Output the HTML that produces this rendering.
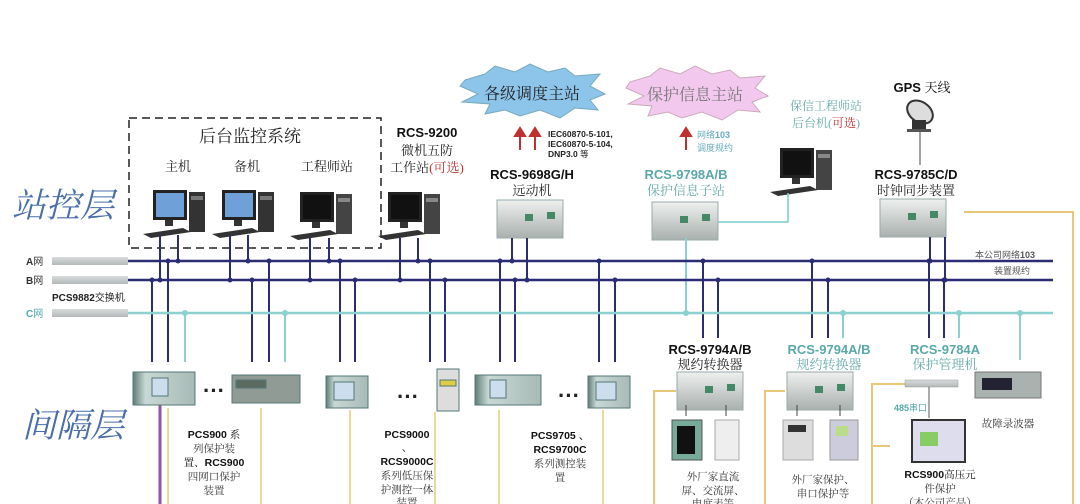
<!DOCTYPE html>
<html><head><meta charset="utf-8"><style>
body{margin:0;background:#fff;}
svg{display:block;font-family:"Liberation Sans","Noto Sans CJK SC",sans-serif;}
.s{font-family:"Liberation Serif","Noto Serif CJK SC",serif;}
</style></head><body>
<svg width="1080" height="504" viewBox="0 0 1080 504" xmlns="http://www.w3.org/2000/svg">
<defs>
<linearGradient id="dev" x1="0" y1="0" x2="0" y2="1"><stop offset="0" stop-color="#eef0ee"/><stop offset="1" stop-color="#a9b0ae"/></linearGradient>
<linearGradient id="bay" x1="0" y1="0" x2="1" y2="0"><stop offset="0" stop-color="#5f7d78"/><stop offset="0.2" stop-color="#c8d8d4"/><stop offset="1" stop-color="#a8bab6"/></linearGradient>
<linearGradient id="bar" x1="0" y1="0" x2="0" y2="1"><stop offset="0" stop-color="#d8dcdc"/><stop offset="1" stop-color="#b3b8b8"/></linearGradient>
<g id="pc"><rect x="10" y="0" width="34" height="30" fill="#222"/><rect x="13" y="3" width="28" height="24" fill="#6fa0d8"/><rect x="46" y="2" width="16" height="40" fill="#333"/><rect x="48" y="6" width="12" height="4" fill="#777"/><polygon points="0,44 40,38 48,42 8,48" fill="#333"/><rect x="22" y="30" width="8" height="6" fill="#333"/></g>
<g id="pc2"><rect x="10" y="0" width="34" height="30" fill="#222"/><rect x="13" y="3" width="28" height="24" fill="#111"/><rect x="46" y="2" width="16" height="40" fill="#444"/><rect x="48" y="6" width="12" height="4" fill="#888"/><polygon points="0,44 40,38 48,42 8,48" fill="#333"/><rect x="22" y="30" width="8" height="6" fill="#333"/></g>
<g id="rack"><rect x="0" y="0" width="66" height="38" fill="url(#dev)" stroke="#9aa" stroke-width="1"/><rect x="28" y="14" width="8" height="7" fill="#486"/><rect x="50" y="12" width="8" height="7" fill="#486"/></g>
</defs>

<text x="12" y="217" class="s" font-size="34" font-style="italic" fill="#4a6fa8">站控层</text>
<text x="22" y="437" class="s" font-size="34" font-style="italic" fill="#4a6fa8">间隔层</text>

<rect x="129" y="118" width="252" height="130" fill="none" stroke="#222" stroke-width="1.5" stroke-dasharray="8,5"/>
<text x="250" y="142" class="s" font-size="17" text-anchor="middle" fill="#222">后台监控系统</text>
<text x="178" y="171" class="s" font-size="13" text-anchor="middle" fill="#222">主机</text>
<text x="247" y="171" class="s" font-size="13" text-anchor="middle" fill="#222">备机</text>
<text x="327" y="171" class="s" font-size="13" text-anchor="middle" fill="#222">工程师站</text>
<use href="#pc" x="143" y="190"/>
<use href="#pc" x="212" y="190"/>
<use href="#pc2" x="290" y="192"/>
<use href="#pc2" x="378" y="192"/>

<text x="427" y="137" font-size="13" font-weight="bold" text-anchor="middle" fill="#111">RCS-9200</text>
<text x="427" y="155" class="s" font-size="13" text-anchor="middle" fill="#222">微机五防</text>
<text x="427" y="172" class="s" font-size="13" text-anchor="middle" fill="#222">工作站<tspan fill="#c03030">(可选)</tspan></text>

<polygon points="465,80 485,74 495,66 515,72 530,64 548,72 565,68 575,76 600,74 590,86 605,94 590,100 598,110 575,108 560,118 540,110 520,116 505,110 485,114 490,104 462,102 478,94 460,86" fill="#8cc4ea" stroke="#7ab" stroke-width="1"/>
<text x="532" y="99" class="s" font-size="16" text-anchor="middle" fill="#222">各级调度主站</text>
<polygon points="630,82 650,76 660,68 680,74 695,66 712,74 730,70 740,78 765,76 755,88 768,96 752,102 760,112 738,110 722,120 702,112 682,118 668,112 648,116 652,106 628,104 644,96 626,88" fill="#f3c8ee" stroke="#cab" stroke-width="1"/>
<text x="695" y="100" class="s" font-size="16" text-anchor="middle" fill="#777">保护信息主站</text>

<g stroke="#c03030" stroke-width="2" fill="#c03030">
<line x1="520" y1="150" x2="520" y2="134"/><polygon points="515,136 525,136 520,128"/>
<line x1="535" y1="150" x2="535" y2="134"/><polygon points="530,136 540,136 535,128"/>
<line x1="686" y1="150" x2="686" y2="134"/><polygon points="681,136 691,136 686,128"/>
</g>
<text x="548" y="137" font-size="8.5" font-weight="bold" fill="#222">IEC60870-5-101,</text>
<text x="548" y="147" font-size="8.5" font-weight="bold" fill="#222">IEC60870-5-104,</text>
<text x="548" y="157" font-size="8.5" font-weight="bold" fill="#222">DNP3.0 <tspan font-weight="normal">等</tspan></text>
<text x="697" y="138" font-size="9" fill="#6ab"><tspan>网络</tspan><tspan font-weight="bold">103</tspan></text>
<text x="697" y="151" font-size="9" fill="#6ab">调度规约</text>

<text x="532" y="179" font-size="13" font-weight="bold" text-anchor="middle" fill="#111">RCS-9698G/H</text>
<text x="532" y="195" class="s" font-size="13" text-anchor="middle" fill="#222">远动机</text>
<use href="#rack" x="497" y="200"/>

<text x="686" y="179" font-size="13" font-weight="bold" text-anchor="middle" fill="#5aa8a8">RCS-9798A/B</text>
<text x="686" y="195" class="s" font-size="13" text-anchor="middle" fill="#6aa">保护信息子站</text>
<use href="#rack" x="652" y="202"/>

<text x="826" y="110" class="s" font-size="12" text-anchor="middle" fill="#6aa">保信工程师站</text>
<text x="826" y="127" class="s" font-size="12" text-anchor="middle" fill="#6aa">后台机(<tspan fill="#c03030">可选</tspan>)</text>
<use href="#pc2" x="770" y="148"/>
<polyline points="718,222 788,222 788,193" fill="none" stroke="#7cc" stroke-width="1.5"/>

<text x="922" y="92" font-size="13" font-weight="bold" text-anchor="middle" fill="#111">GPS <tspan font-weight="normal" class="s">天线</tspan></text>
<g><ellipse cx="920" cy="112" rx="14" ry="10" fill="#ddd" stroke="#333" stroke-width="2" transform="rotate(35 920 112)"/><rect x="912" y="120" width="14" height="10" fill="#333"/><rect x="907" y="129" width="24" height="3" fill="#555"/></g>
<line x1="920" y1="132" x2="920" y2="165" stroke="#444" stroke-width="1"/>
<text x="916" y="179" font-size="13" font-weight="bold" text-anchor="middle" fill="#111">RCS-9785C/D</text>
<text x="916" y="195" class="s" font-size="13" text-anchor="middle" fill="#222">时钟同步装置</text>
<use href="#rack" x="880" y="199"/>
<polyline points="964,212 1073,212 1073,504" fill="none" stroke="#e8c878" stroke-width="2"/>

<text x="26" y="265" font-size="10" font-weight="bold" fill="#333">A<tspan font-weight="normal">网</tspan></text>
<text x="26" y="284" font-size="10" font-weight="bold" fill="#333">B<tspan font-weight="normal">网</tspan></text>
<text x="26" y="317" font-size="10" font-weight="bold" fill="#5aa">C<tspan font-weight="normal">网</tspan></text>
<text x="52" y="301" font-size="10" font-weight="bold" fill="#222">PCS9882<tspan font-weight="normal">交换机</tspan></text>
<rect x="52" y="257" width="76" height="8" fill="url(#bar)"/>
<rect x="52" y="276" width="76" height="8" fill="url(#bar)"/>
<rect x="52" y="309" width="76" height="8" fill="url(#bar)"/>
<text x="1035" y="258" font-size="9" text-anchor="end" fill="#555">本公司网络<tspan font-weight="bold">103</tspan></text>
<text x="1030" y="274" font-size="9" text-anchor="end" fill="#555">装置规约</text>

<g stroke="#2b2d72" stroke-width="2">
<line x1="160" y1="235" x2="160" y2="280"/><line x1="178" y1="235" x2="178" y2="261"/>
<line x1="230" y1="235" x2="230" y2="280"/><line x1="248" y1="235" x2="248" y2="261"/>
<line x1="310" y1="238" x2="310" y2="280"/><line x1="329" y1="238" x2="329" y2="261"/>
<line x1="400" y1="238" x2="400" y2="280"/><line x1="418" y1="238" x2="418" y2="261"/>
<line x1="512" y1="238" x2="512" y2="261"/><line x1="527" y1="238" x2="527" y2="280"/>
<line x1="930" y1="237" x2="930" y2="261"/><line x1="945" y1="237" x2="945" y2="280"/>
<line x1="152" y1="280" x2="152" y2="362"/><line x1="168" y1="261" x2="168" y2="362"/>
<line x1="252" y1="280" x2="252" y2="362"/><line x1="269" y1="261" x2="269" y2="362"/>
<line x1="340" y1="261" x2="340" y2="362"/><line x1="355" y1="280" x2="355" y2="362"/>
<line x1="430" y1="261" x2="430" y2="362"/><line x1="445" y1="280" x2="445" y2="362"/>
<line x1="500" y1="261" x2="500" y2="362"/><line x1="515" y1="280" x2="515" y2="362"/>
<line x1="599" y1="261" x2="599" y2="362"/><line x1="615" y1="280" x2="615" y2="362"/>
<line x1="703" y1="261" x2="703" y2="338"/><line x1="718" y1="280" x2="718" y2="338"/>
<line x1="812" y1="261" x2="812" y2="338"/><line x1="828" y1="280" x2="828" y2="338"/>
<line x1="929" y1="261" x2="929" y2="338"/><line x1="944" y1="280" x2="944" y2="338"/>
</g>
<g stroke="#8cd0d0" stroke-width="2">
<line x1="185" y1="313" x2="185" y2="362"/><line x1="285" y1="313" x2="285" y2="362"/>
<line x1="686" y1="238" x2="686" y2="313"/>
<line x1="843" y1="313" x2="843" y2="338"/><line x1="959" y1="313" x2="959" y2="338"/><line x1="1020" y1="313" x2="1020" y2="360"/>
</g>
<line x1="128" y1="261" x2="1053" y2="261" stroke="#2b2d72" stroke-width="2.5"/>
<line x1="128" y1="280" x2="1053" y2="280" stroke="#2b2d72" stroke-width="2.5"/>
<line x1="128" y1="313" x2="1053" y2="313" stroke="#8cd0d0" stroke-width="2.5"/>
<g fill="#2b2d72">
<circle cx="160" cy="280" r="2.5"/><circle cx="178" cy="261" r="2.5"/><circle cx="152" cy="280" r="2.5"/><circle cx="168" cy="261" r="2.5"/>
<circle cx="230" cy="280" r="2.5"/><circle cx="248" cy="261" r="2.5"/><circle cx="252" cy="280" r="2.5"/><circle cx="269" cy="261" r="2.5"/>
<circle cx="310" cy="280" r="2.5"/><circle cx="329" cy="261" r="2.5"/><circle cx="340" cy="261" r="2.5"/><circle cx="355" cy="280" r="2.5"/>
<circle cx="400" cy="280" r="2.5"/><circle cx="418" cy="261" r="2.5"/><circle cx="430" cy="261" r="2.5"/><circle cx="445" cy="280" r="2.5"/>
<circle cx="500" cy="261" r="2.5"/><circle cx="512" cy="261" r="2.5"/><circle cx="515" cy="280" r="2.5"/><circle cx="527" cy="280" r="2.5"/>
<circle cx="599" cy="261" r="2.5"/><circle cx="615" cy="280" r="2.5"/><circle cx="703" cy="261" r="2.5"/><circle cx="718" cy="280" r="2.5"/>
<circle cx="812" cy="261" r="2.5"/><circle cx="828" cy="280" r="2.5"/><circle cx="929" cy="261" r="2.5"/><circle cx="944" cy="280" r="2.5"/><circle cx="930" cy="261" r="2.5"/><circle cx="945" cy="280" r="2.5"/>
</g>
<g fill="#8cd0d0"><circle cx="185" cy="313" r="3"/><circle cx="285" cy="313" r="3"/><circle cx="686" cy="313" r="3"/><circle cx="843" cy="313" r="3"/><circle cx="959" cy="313" r="3"/><circle cx="1020" cy="313" r="3"/></g>

<line x1="160" y1="405" x2="160" y2="504" stroke="#8a5aa8" stroke-width="3"/>
<g stroke="#eadc98" stroke-width="2" fill="none">
<line x1="168" y1="408" x2="168" y2="504"/><line x1="261" y1="408" x2="261" y2="504"/>
<line x1="350" y1="410" x2="350" y2="504"/><line x1="435" y1="412" x2="435" y2="504"/>
<line x1="499" y1="410" x2="499" y2="504"/><line x1="603" y1="410" x2="603" y2="504"/>
</g>
<g stroke="#e8c878" stroke-width="2" fill="none">
<polyline points="676,391 654,391 654,504"/><polyline points="785,391 765,391 765,504"/>
<polyline points="905,384 872,384 872,504"/><line x1="872" y1="446" x2="890" y2="446"/>
</g>

<g stroke="#577" stroke-width="1">
<rect x="133" y="372" width="62" height="33" fill="url(#bay)"/><rect x="152" y="378" width="16" height="18" fill="#cde" />
<rect x="232" y="375" width="68" height="28" fill="#8f9b94"/><rect x="236" y="380" width="30" height="8" fill="#5b6b60"/>
<rect x="326" y="376" width="42" height="32" fill="url(#bay)"/><rect x="334" y="382" width="20" height="18" fill="#cde"/>
<rect x="437" y="369" width="22" height="42" fill="#ddd"/><rect x="440" y="380" width="16" height="6" fill="#dc4"/>
<rect x="475" y="375" width="66" height="30" fill="url(#bay)"/><rect x="490" y="380" width="16" height="18" fill="#cde"/>
<rect x="588" y="376" width="42" height="32" fill="url(#bay)"/><rect x="596" y="382" width="20" height="18" fill="#cde"/>
</g>
<g font-size="22" font-weight="bold" fill="#222"><text x="203" y="398">···</text><text x="397" y="404">···</text><text x="558" y="403">···</text></g>

<text x="214" y="438" font-size="10.5" font-weight="bold" text-anchor="middle" fill="#111">PCS900 <tspan class="s" font-weight="normal">系</tspan></text>
<text x="214" y="452" class="s" font-size="10.5" text-anchor="middle" fill="#333">列保护装</text>
<text x="214" y="466" font-size="10.5" text-anchor="middle" fill="#111"><tspan class="s">置、</tspan><tspan font-weight="bold">RCS900</tspan></text>
<text x="214" y="480" class="s" font-size="10.5" text-anchor="middle" fill="#333">四网口保护</text>
<text x="214" y="494" class="s" font-size="10.5" text-anchor="middle" fill="#333">装置</text>

<text x="407" y="438" font-size="10.5" font-weight="bold" text-anchor="middle" fill="#111">PCS9000</text>
<text x="407" y="451" font-size="10.5" text-anchor="middle" fill="#333">、</text>
<text x="407" y="465" font-size="10.5" font-weight="bold" text-anchor="middle" fill="#111">RCS9000C</text>
<text x="407" y="479" class="s" font-size="10.5" text-anchor="middle" fill="#333">系列低压保</text>
<text x="407" y="493" class="s" font-size="10.5" text-anchor="middle" fill="#333">护测控一体</text>
<text x="407" y="506" class="s" font-size="10.5" text-anchor="middle" fill="#333">装置</text>

<text x="560" y="439" font-size="10.5" font-weight="bold" text-anchor="middle" fill="#111">PCS9705 <tspan font-weight="normal">、</tspan></text>
<text x="560" y="453" font-size="10.5" font-weight="bold" text-anchor="middle" fill="#111">RCS9700C</text>
<text x="560" y="467" class="s" font-size="10.5" text-anchor="middle" fill="#333">系列测控装</text>
<text x="560" y="481" class="s" font-size="10.5" text-anchor="middle" fill="#333">置</text>

<text x="710" y="354" font-size="13" font-weight="bold" text-anchor="middle" fill="#111">RCS-9794A/B</text>
<text x="710" y="369" class="s" font-size="13" text-anchor="middle" fill="#222">规约转换器</text>
<use href="#rack" x="677" y="372"/>
<text x="829" y="354" font-size="13" font-weight="bold" text-anchor="middle" fill="#5aa8a8">RCS-9794A/B</text>
<text x="829" y="369" class="s" font-size="13" text-anchor="middle" fill="#6aa">规约转换器</text>
<use href="#rack" x="787" y="372"/>
<text x="945" y="354" font-size="13" font-weight="bold" text-anchor="middle" fill="#5aa8a8">RCS-9784A</text>
<text x="945" y="369" class="s" font-size="13" text-anchor="middle" fill="#6aa">保护管理机</text>
<rect x="905" y="380" width="53" height="7" fill="url(#bar)" stroke="#999" stroke-width="0.5"/>
<line x1="929" y1="387" x2="929" y2="418" stroke="#555"/>
<text x="894" y="411" font-size="9" font-weight="bold" fill="#5aa">485<tspan font-weight="normal">串口</tspan></text>
<rect x="975" y="372" width="66" height="26" fill="#aab2b0" stroke="#777"/><rect x="982" y="378" width="30" height="12" fill="#223"/>
<text x="1008" y="427" class="s" font-size="10.5" text-anchor="middle" fill="#333">故障录波器</text>

<g stroke="#444" stroke-width="1"><line x1="686" y1="405" x2="686" y2="416"/><line x1="726" y1="405" x2="726" y2="416"/><line x1="797" y1="405" x2="797" y2="416"/><line x1="840" y1="405" x2="840" y2="416"/></g>
<rect x="672" y="420" width="30" height="40" fill="#7a9" stroke="#555"/><rect x="677" y="426" width="18" height="28" fill="#111"/>
<rect x="715" y="420" width="24" height="40" fill="#eee" stroke="#aaa"/>
<rect x="783" y="420" width="30" height="40" fill="#ddd" stroke="#aaa"/><rect x="788" y="425" width="18" height="7" fill="#333"/>
<rect x="830" y="420" width="28" height="40" fill="#ccd" stroke="#999"/><rect x="836" y="426" width="12" height="10" fill="#bd8"/>
<rect x="912" y="420" width="53" height="42" fill="#dde" stroke="#333" stroke-width="2"/><rect x="920" y="432" width="18" height="14" fill="#8c6"/>

<text x="713" y="480" class="s" font-size="10.5" text-anchor="middle" fill="#333">外厂家直流</text>
<text x="713" y="494" class="s" font-size="10.5" text-anchor="middle" fill="#333">屏、交流屏、</text>
<text x="713" y="507" class="s" font-size="10.5" text-anchor="middle" fill="#333">电度表等</text>
<text x="823" y="483" class="s" font-size="10.5" text-anchor="middle" fill="#333">外厂家保护、</text>
<text x="823" y="497" class="s" font-size="10.5" text-anchor="middle" fill="#333">串口保护等</text>
<text x="940" y="478" font-size="10.5" font-weight="bold" text-anchor="middle" fill="#111">RCS900<tspan class="s" font-weight="normal">高压元</tspan></text>
<text x="940" y="492" class="s" font-size="10.5" text-anchor="middle" fill="#333">件保护</text>
<text x="940" y="506" class="s" font-size="10.5" text-anchor="middle" fill="#333">（本公司产品）</text>
</svg>
</body></html>
